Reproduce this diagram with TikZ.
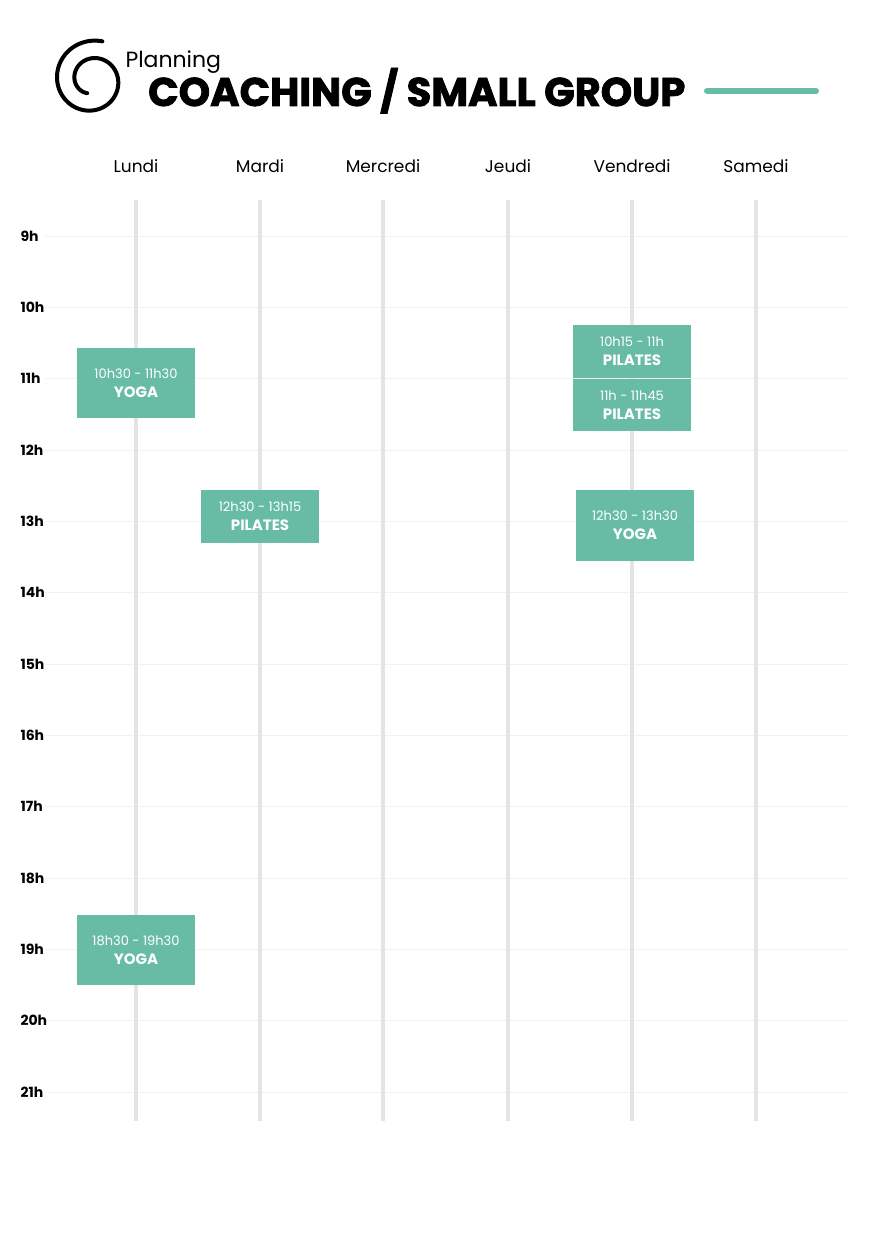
\documentclass[tikz,border=0pt]{standalone}
\usepackage{fontspec}
\setmainfont{Poppins}
\usetikzlibrary{positioning}
\definecolor{slot}{HTML}{68BCA5}
\definecolor{rail}{HTML}{E4E4E4}
\definecolor{grid}{HTML}{F2F2F2}
\tikzset{
  hour/.style={anchor=west, font=\fontsize{14}{16}\selectfont\bfseries},
  day/.style={font=\fontsize{17}{19}\selectfont},
  course/.style={fill=slot, draw=none, text=white, align=center,
    font=\fontsize{13}{19}\selectfont, inner sep=0pt}
}
\newcommand{\course}[6]{% name, x1, y1, x2, y2, text
  \fill[slot] (#2,#3) rectangle (#4,#5);
  \node[course] (#1) at ({(#2+#4)/2},{(#3+#5)/2}) {#6};}
\begin{document}
\begin{tikzpicture}[x=1pt,y=-1pt]
  \useasboundingbox (0,0) rectangle (875,1241);
  % logo
  \begin{scope}[y=1pt]
    \draw[line width=4pt, line cap=round, domain=75:610, samples=150, smooth]
      plot ({92+(40-26*(\x-75)/535)*cos(\x)}, {-80+(40-26*(\x-75)/535)*sin(\x)});
  \end{scope}
  \node[anchor=base west, font=\fontsize{22}{24}\selectfont] (plan) at (122,68) {Planning};
  \node[anchor=base west, inner sep=0pt, font=\fontsize{40}{42}\selectfont\bfseries\addfontfeature{FakeBold=2}] (title) at (148,106) {COACHING / SMALL GROUP};
  \draw[slot, line width=6pt, line cap=round] (707,91) -- (816,91);
  % hours
  \foreach \h [count=\i from 0] in {9,...,21}{
    \draw[grid, line width=0.6pt] (45,236+71.33*\i) -- (848,236+71.33*\i);
    \node[hour] (h\h) at (17,236+71.33*\i) {\h h};
  }
  % days
  \foreach \d/\x in {Lundi/136, Mardi/260, Mercredi/383, Jeudi/508, Vendredi/632, Samedi/756}{
    \draw[rail, line width=4.5pt] (\x,200) -- (\x,1121);
    \node[day] (\d) at (\x,166) {\d};
  }
  % courses
  \course{lunA}{77}{348}{195}{418}{10h30 - 11h30\\\textbf{\fontsize{15}{19}\selectfont YOGA}}
  \course{marA}{201}{490}{319}{543}{12h30 - 13h15\\\textbf{\fontsize{15}{19}\selectfont PILATES}}
  \course{venA}{573}{325}{691}{378}{10h15 - 11h\\\textbf{\fontsize{15}{19}\selectfont PILATES}}
  \course{venB}{573}{379}{691}{431}{11h - 11h45\\\textbf{\fontsize{15}{19}\selectfont PILATES}}
  \course{venC}{576}{490}{694}{561}{12h30 - 13h30\\\textbf{\fontsize{15}{19}\selectfont YOGA}}
  \course{lunB}{77}{915}{195}{985}{18h30 - 19h30\\\textbf{\fontsize{15}{19}\selectfont YOGA}}
\end{tikzpicture}
\end{document}
